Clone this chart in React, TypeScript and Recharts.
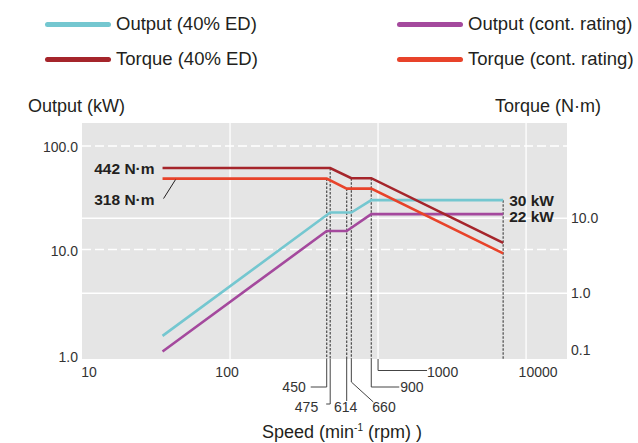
import React from "react";
import { LineChart, Line, XAxis, YAxis, CartesianGrid, ReferenceLine } from "recharts";

const FONT = '"Liberation Sans", Arial, Helvetica, sans-serif';

// break points of the curves, speed in min-1
const speed40 = [35, 475, 660, 900, 7000];
const speedCont = [35, 450, 614, 900, 7000];

// output, kW
const output40 = [1.47, 22.8, 22.8, 30, 30];
const outputCont = [1.04, 15.1, 15.1, 22, 22];

// torque, N·m
const torque40 = [442, 442, 322, 322, 43];
const torqueCont = [318, 318, 233, 233, 31];

const speedTicks = [10, 100, 7000, 10000];
const speedGrid = [100, 1000, 10000];
const outputTicks = [1, 10, 100];
const torqueTicks = [92.4, 8.96, 1.52];
const torqueTickLabels = ["10.0", "1.0", "0.1"];

const speedDomain = [10, 18900];
const outputDomain = [0.879, 166.7];
const torqueDomain = [1.16, 1793];

const toRows = (xs: number[], ys: number[]) => xs.map((speed, i) => ({ speed, value: ys[i] }));

const series = [
  { key: "out40", name: "Output (40% ED)", color: "#74c7d0", axis: "out", data: toRows(speed40, output40) },
  { key: "outCont", name: "Output (cont. rating)", color: "#a4499d", axis: "out", data: toRows(speedCont, outputCont) },
  { key: "tq40", name: "Torque (40% ED)", color: "#a5252b", axis: "torque", data: toRows(speed40, torque40) },
  { key: "tqCont", name: "Torque (cont. rating)", color: "#e8432a", axis: "torque", data: toRows(speedCont, torqueCont) },
];

// dashed drop lines at the knees, with the leader to their label
const knees = [
  { speed: speedCont[1], top: torqueCont[1], axis: "torque", kind: "left" },
  { speed: speed40[1], top: torque40[1], axis: "torque", kind: "hook" },
  { speed: speedCont[2], top: torqueCont[2], axis: "torque", kind: "down" },
  { speed: speed40[2], top: torque40[2], axis: "torque", kind: "diag" },
  { speed: speed40[3], top: torque40[3], axis: "torque", kind: "right" },
  { speed: speed40[4], top: output40[4], axis: "out", kind: "none" },
];

const tickNudge: Record<number, number> = { 10: 7, 100: -3, 7000: -12, 10000: 12 };

const SpeedTick = (props: any) => {
  const { x, y, payload } = props;
  const v = payload.value;
  return (
    <text x={x + (tickNudge[v] || 0)} y={y} dy="0.71em" textAnchor="middle" fontSize={14} fill="#333">
      {v}
    </text>
  );
};

const OutputTick = (props: any) => {
  const { x, y, payload } = props;
  const v = payload.value;
  return (
    <text x={x} y={y + (v === 1 ? 4 : 1)} dy="0.355em" textAnchor="end" fontSize={14} fill="#333">
      {v.toFixed(1)}
    </text>
  );
};

const leader = (kind: string, text: string) => (props: any) => {
  const vb = props.viewBox || {};
  const x = vb.x;
  const b = vb.y + vb.height;
  let d = "";
  let tx = x;
  let ty = b + 48;
  let anchor: "start" | "middle" | "end" = "start";
  if (kind === "left") {
    d = `M${x},${b}V${b + 28}H${x - 16}`;
    tx = x - 21; ty = b + 28; anchor = "end";
  } else if (kind === "hook") {
    d = `M${x},${b}V${b + 45}H${x - 4}`;
    tx = x - 12; anchor = "end";
  } else if (kind === "down") {
    d = `M${x},${b}V${b + 42}`;
    tx = x - 1; anchor = "middle";
  } else if (kind === "diag") {
    d = `M${x},${b}V${b + 23}L${x + 22},${b + 43}`;
    tx = x + 21;
  } else if (kind === "right") {
    d = `M${x},${b}V${b + 28}H${x + 28}`;
    tx = x + 29; ty = b + 28;
  } else if (kind === "far") {
    d = `M${x},${b}V${b + 11.5}H${x + 49}`;
    tx = x + 49; ty = b + 12.5;
  } else {
    return <g />;
  }
  return (
    <g>
      <path d={d} fill="none" stroke="#444" strokeWidth={1} />
      <text x={tx} y={ty} dominantBaseline="central" textAnchor={anchor} fontSize={14} fill="#333">
        {text}
      </text>
    </g>
  );
};

const pointLabel = (key: string) => (p: any) => {
  const { x, y, index } = p;
  const bold = { fontSize: 15.5, fontWeight: 700, fill: "#231f20" } as const;
  if (key === "tq40" && index === 0)
    return <text x={x - 8} y={y} dominantBaseline="central" textAnchor="end" {...bold}>{"442 N·m"}</text>;
  if (key === "tqCont" && index === 0)
    return (
      <g>
        <path d={`M${x + 1},${y + 20}L${x + 13},${y + 1}`} stroke="#231f20" strokeWidth={1} />
        <text x={x - 8} y={y + 21} dominantBaseline="central" textAnchor="end" {...bold}>{"318 N·m"}</text>
      </g>
    );
  if (key === "out40" && index === speed40.length - 1)
    return <text x={x + 6} y={y} dominantBaseline="central" {...bold}>{"30 kW"}</text>;
  if (key === "outCont" && index === speedCont.length - 1)
    return <text x={x + 6} y={y + 2} dominantBaseline="central" {...bold}>{"22 kW"}</text>;
  return <g />;
};

export default function App() {
  return (
    <div style={{ position: "absolute", left: 0, top: 0, width: 638, height: 443, background: "#fff", fontFamily: FONT, color: "#231f20" }}>
      <div style={{ position: "absolute", left: 0, top: 0, width: 638, height: 80 }}>
        {series.map((s, i) => (
          <div key={s.key} style={{ position: "absolute", left: i % 2 === 0 ? 45 : 397, top: i < 2 ? 13 : 48, height: 22, display: "flex", alignItems: "center" }}>
            <div style={{ width: 66, height: 5, borderRadius: 3, background: s.color }} />
            <span style={{ marginLeft: 5, fontSize: 18.5, lineHeight: "22px", whiteSpace: "nowrap" }}>{s.name}</span>
          </div>
        ))}
      </div>
      <div style={{ position: "absolute", left: 28, top: 95, fontSize: 18, lineHeight: "22px", whiteSpace: "nowrap" }}>Output (kW)</div>
      <div style={{ position: "absolute", left: 495, top: 95, fontSize: 18, lineHeight: "22px", whiteSpace: "nowrap" }}>Torque (N·m)</div>

      <LineChart width={638} height={443} margin={{ top: 123, right: 0, bottom: 54, left: 0 }}>
        <CartesianGrid xAxisId="speed" yAxisId="out" fill="#e5e5e5" stroke="none" horizontal={false} vertical={false} />
        <XAxis
          xAxisId="speed"
          dataKey="speed"
          type="number"
          scale="log"
          domain={speedDomain}
          ticks={speedTicks}
          allowDataOverflow
          axisLine={false}
          tickLine={false}
          tickSize={0}
          tickMargin={8}
          height={30}
          tick={SpeedTick}
        />
        <YAxis
          yAxisId="out"
          orientation="left"
          width={82}
          type="number"
          scale="log"
          domain={outputDomain}
          ticks={outputTicks}
          allowDataOverflow
          axisLine={false}
          tickLine={false}
          tickSize={0}
          tickMargin={4}
          tick={OutputTick}
        />
        <YAxis
          yAxisId="torque"
          orientation="right"
          width={71}
          type="number"
          scale="log"
          domain={torqueDomain}
          ticks={torqueTicks}
          allowDataOverflow
          axisLine={false}
          tickLine={false}
          tickSize={0}
          tickMargin={4}
          tick={{ fill: "#333", fontSize: 14 }}
          tickFormatter={(v: number) => torqueTickLabels[torqueTicks.indexOf(v)]}
        />

        {speedGrid.map((s) => (
          <ReferenceLine
            key={"gx" + s}
            xAxisId="speed"
            yAxisId="out"
            x={s}
            stroke="#fff"
            strokeWidth={1.3}
            ifOverflow="visible"
            label={s === 1000 ? leader("far", String(s)) : undefined}
          />
        ))}
        {outputTicks.filter((v) => v > 1).map((v) => (
          <ReferenceLine key={"go" + v} xAxisId="speed" yAxisId="out" y={v} stroke="#fff" strokeWidth={1.5} strokeDasharray="9 4" />
        ))}
        {torqueTicks.slice(0, 2).map((v) => (
          <ReferenceLine key={"gt" + v} xAxisId="speed" yAxisId="torque" y={v} stroke="#fff" strokeWidth={1.5} />
        ))}

        {knees.map((k) => (
          <ReferenceLine
            key={"k" + k.speed}
            xAxisId="speed"
            yAxisId={k.axis}
            segment={[
              { x: k.speed, y: k.top },
              { x: k.speed, y: k.axis === "out" ? outputDomain[0] : torqueDomain[0] },
            ]}
            stroke="#4a4a4a"
            strokeWidth={1.2}
            strokeDasharray="2.5 1.5"
            ifOverflow="visible"
            label={leader(k.kind, String(k.speed))}
          />
        ))}

        {series.map((s) => (
          <Line
            key={s.key}
            xAxisId="speed"
            yAxisId={s.axis}
            data={s.data}
            dataKey="value"
            name={s.name}
            stroke={s.color}
            strokeWidth={2.6}
            dot={false}
            activeDot={false}
            isAnimationActive={false}
            label={pointLabel(s.key)}
          />
        ))}
      </LineChart>

      <div style={{ position: "absolute", left: 262, top: 423, fontSize: 18, lineHeight: "18px", whiteSpace: "nowrap" }}>
        Speed (min<sup style={{ fontSize: 10, verticalAlign: "top", lineHeight: "10px" }}>-1</sup> (rpm) )
      </div>
    </div>
  );
}
